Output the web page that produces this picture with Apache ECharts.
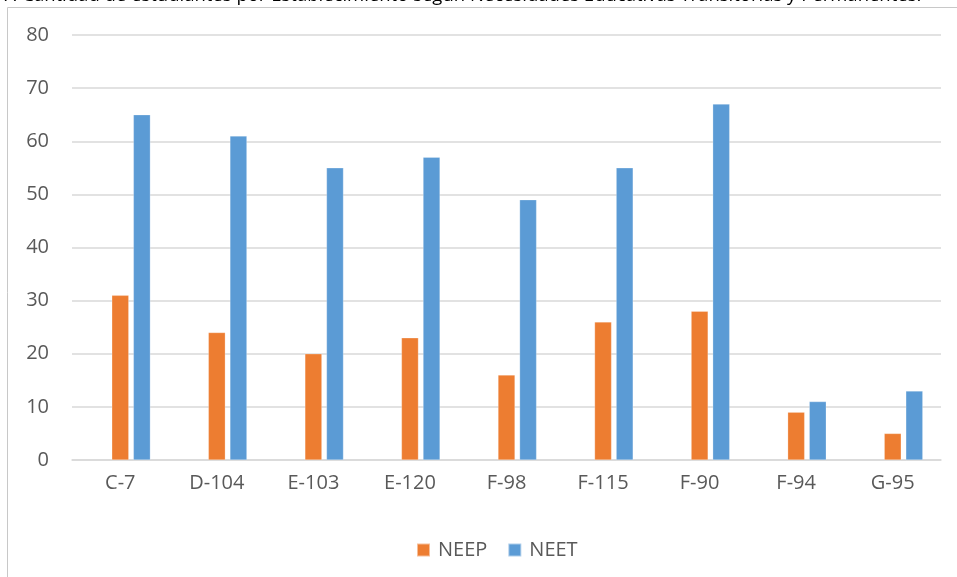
<!DOCTYPE html>
<html>
<head>
<meta charset="utf-8">
<script src="https://cdn.jsdelivr.net/npm/echarts@6/dist/echarts.min.js"></script>
<style>
  html, body { margin: 0; padding: 0; background: #fff; }
  #chart { width: 957px; height: 577px; }
</style>
</head>
<body>
<div id="chart"></div>
<script>
  // datos
  let categorias = ['C-7', 'D-104', 'E-103', 'E-120', 'F-98', 'F-115', 'F-90', 'F-94', 'G-95'];
  let neep = [31, 24, 20, 23, 16, 26, 28, 9, 5];
  let neet = [65, 61, 55, 57, 49, 55, 67, 11, 13];
  let ejeY = { min: 0, max: 80, interval: 10 };

  let fuente = "'Open Sans', sans-serif";
  let myChart = echarts.init(document.getElementById('chart'));

  let option = {
    animation: false,
    textStyle: { fontFamily: fuente },
    color: ['#fff', '#ED7D31', '#5B9BD5'],
    graphic: [
      {
        type: 'rect',
        shape: { x: 7.5, y: 7.5, width: 980, height: 600 },
        style: { fill: 'none', stroke: '#C8C8C8', lineWidth: 1 },
        silent: true
      },
      {
        type: 'text',
        left: 2,
        top: -14,
        style: {
          text: '7. Cantidad de estudiantes por Establecimiento según Necesidades Educativas Transitorias y Permanentes.',
          font: "18.5px 'Open Sans', sans-serif",
          fill: '#000'
        },
        silent: true
      }
    ],
    grid: { left: 72, right: 16, top: 35, bottom: 117 },
    legend: {
      data: ['NEEP', 'NEET'],
      left: 411,
      top: 535,
      itemWidth: 13,
      itemHeight: 13,
      itemGap: 20,
      icon: 'rect',
      textStyle: { color: '#595959', fontSize: 20, fontFamily: fuente, padding: [0, 0, 0, 3] }
    },
    xAxis: {
      type: 'category',
      data: categorias,
      axisLine: { lineStyle: { color: '#D9D9D9', width: 1.5 } },
      axisTick: { show: false },
      axisLabel: { color: '#595959', fontSize: 20, margin: 13, fontFamily: fuente }
    },
    yAxis: {
      type: 'value',
      min: ejeY.min,
      max: ejeY.max,
      interval: ejeY.interval,
      axisLine: { show: false },
      axisTick: { show: false },
      axisLabel: { color: '#595959', fontSize: 20, margin: 23, fontFamily: fuente },
      splitLine: { lineStyle: { color: '#D9D9D9', width: 1.5 } }
    },
    series: [
      {
        // serie vacia, igual que en el original (desplaza las barras)
        name: '',
        type: 'bar',
        data: [],
        barWidth: 17,
        barGap: '27%'
      },
      {
        name: 'NEEP',
        type: 'bar',
        data: neep,
        barWidth: 17,
        barGap: '27%',
        itemStyle: { borderColor: 'rgba(255,255,255,0.5)', borderWidth: 0.5 }
      },
      {
        name: 'NEET',
        type: 'bar',
        data: neet,
        barWidth: 17,
        barGap: '27%',
        itemStyle: { borderColor: 'rgba(255,255,255,0.5)', borderWidth: 0.5 }
      }
    ]
  };
  myChart.setOption(option);
</script>
</body>
</html>
